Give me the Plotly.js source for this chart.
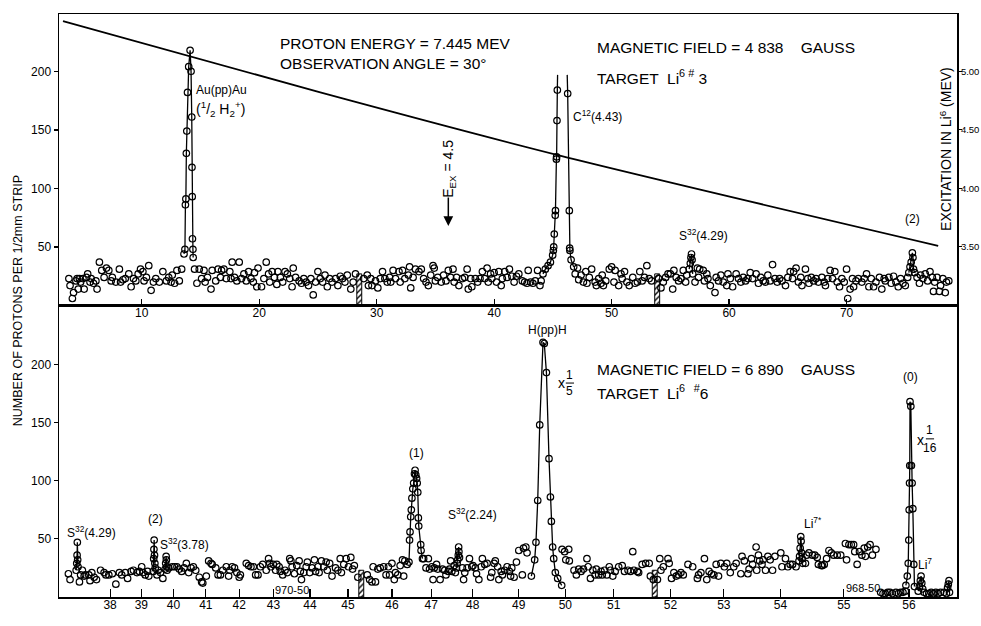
<!DOCTYPE html>
<html><head><meta charset="utf-8">
<script src="https://cdn.plot.ly/plotly-3.0.1.min.js"></script>
<style>body{margin:0;background:#fff}#chart{width:981px;height:626px}</style>
</head><body><div id="chart"></div>
<script>
// ---------- TOP PANEL (distance, cm) ----------
const topTickVals = [10,20,30,40,50,60,70];
const topBgD = [3.8,3.9,4.1,4.2,4.4,4.5,4.6,4.7,4.8,5.0,5.1,5.3,5.4,5.6,5.7,5.9,6.1,6.2,6.4,6.6,6.8,7.0,7.2,7.4,7.5,7.8,8.1,8.2,8.4,8.6,8.9,9.1,9.3,9.5,9.7,9.9,10.1,10.2,10.4,10.6,10.8,11.0,11.2,11.5,11.8,12.1,12.3,12.5,12.6,12.8,13.0,13.2,13.4,
14.5,14.7,14.9,15.1,15.3,15.4,15.6,15.9,16.0,16.3,16.5,16.7,16.8,17.0,17.2,17.5,17.6,17.7,17.9,18.1,18.3,18.5,18.7,18.9,19.1,19.3,19.5,19.6,19.8,19.9,20.2,20.4,20.6,20.8,20.9,21.1,21.3,21.5,21.6,21.8,22.0,22.2,22.4,22.6,22.8,22.9,23.1,23.4,23.6,23.8,24.0,24.2,24.4,24.6,24.8,25.0,25.2,25.4,25.6,25.8,26.0,26.2,26.5,26.7,26.9,27.1,27.3,27.5,27.8,28.0,28.2,
28.9,29.2,29.3,29.5,29.6,29.9,30.1,30.3,30.5,30.7,30.9,31.1,31.2,31.4,31.6,31.9,32.0,32.2,32.4,32.7,32.8,32.9,33.1,33.3,33.6,33.8,34.0,34.2,34.4,34.6,34.8,34.9,35.0,35.2,35.5,35.7,35.9,36.1,36.3,36.5,36.6,36.8,37.0,37.3,37.5,37.7,37.8,38.0,38.1,38.4,38.6,38.8,39.0,39.2,39.4,39.5,39.7,39.8,40.0,40.2,40.4,40.6,40.7,40.9,41.1,41.3,41.5,41.7,41.9,42.1,42.4,42.6,42.8,42.9,43.1,43.3,43.5,43.7,43.9,44.0,
46.9,47.1,47.2,47.4,47.6,47.8,47.9,48.1,48.3,48.6,48.7,48.9,49.1,49.2,49.3,49.5,49.8,50.0,50.2,50.3,50.6,50.8,50.9,51.1,51.3,51.5,51.8,52.0,52.2,52.4,52.6,52.8,53.0,53.2,53.4,
54.0,54.2,54.4,54.6,54.8,55.0,55.2,55.3,55.5,55.7,55.9,56.1,56.3,56.4,
57.1,57.3,57.4,57.5,57.8,57.9,58.1,58.2,58.4,58.8,58.9,59.1,59.3,59.5,59.8,59.9,60.1,60.3,60.6,60.8,61.0,61.2,61.4,61.6,61.8,62.0,62.3,62.5,62.7,62.9,63.1,63.3,63.5,63.7,63.9,64.1,64.3,64.5,64.8,65.0,65.2,65.4,65.5,65.7,65.9,66.1,66.2,66.5,66.7,66.8,67.0,67.2,67.4,67.6,67.9,68.1,68.2,68.4,68.6,68.8,69.0,69.2,69.4,69.6,69.8,70.0,70.1,70.3,70.5,70.6,70.8,71.0,71.3,71.5,71.7,71.9,72.1,72.3,72.5,72.8,73.0,73.2,73.3,73.6,73.8,74.0,74.2,74.4,74.6,74.8,75.0,75.2,
76.0,76.2,76.3,76.5,76.7,76.9,77.1,77.3,77.4,77.5,77.7,77.9,78.0,78.2,78.4,78.5,78.7];
const topBgN = [23,17,6,11,21,23,14,23,20,23,14,24,27,20,23,19,21,14,37,30,24,32,30,21,24,20,31,20,22,23,27,16,23,21,27,31,29,21,24,34,13,20,23,20,29,21,24,20,26,19,30,21,31,
31,19,31,23,30,20,24,14,30,21,31,24,30,31,23,29,23,37,24,21,37,23,27,21,29,23,20,28,16,32,16,23,37,27,20,29,24,18,29,24,20,29,27,23,16,32,24,21,19,23,20,17,23,9,20,29,23,20,26,16,23,20,23,17,25,23,20,26,14,20,27,
23,26,17,23,17,21,15,23,29,23,20,24,20,30,23,29,20,30,23,26,33,15,24,31,29,31,23,20,17,26,34,32,21,24,20,26,21,30,24,31,20,24,17,23,24,31,14,23,16,23,20,23,29,23,32,20,27,23,28,20,29,17,23,29,24,31,25,20,25,27,21,20,19,30,20,19,21,30,17,21,
27,32,22,26,20,29,19,24,31,20,17,23,19,26,17,21,31,33,20,30,17,27,23,29,20,17,24,19,20,29,21,24,34,23,21,
23,15,20,24,27,27,14,30,24,21,23,30,20,26,
20,32,24,31,30,21,27,23,17,11,24,21,26,20,17,27,23,16,27,23,20,24,21,23,28,23,27,19,24,21,20,26,21,35,23,20,23,21,17,24,29,23,29,32,20,24,17,31,23,19,24,21,23,20,24,20,17,23,30,23,29,20,16,23,20,31,6,14,23,16,21,23,20,23,27,16,23,16,20,24,14,23,21,24,19,25,20,16,23,19,17,24,
24,19,26,23,27,21,29,24,12,20,24,12,17,23,11,20,21];
// peaks (top)
const auPkD = [13.6,13.68,13.72,13.76,13.8,13.84,13.9,14.0,14.12,14.2,14.26,14.28,14.3,14.32,14.36,14.38];
const auPkN = [44,48,86,91,130,149,182,204,218,200,161,118,93,57,48,41];
const c12LeftD = [44.16,44.36,44.59,44.79,44.98,45.04,45.07,45.12,45.2,45.22,45.3,45.32,45.35,45.38];
const c12LeftN = [27,31,34,37,43,47,50,61,77,81,125,127,158,184];
const c12RightD = [46.26,46.4,46.43,46.45,46.55,46.77];
const c12RightN = [181,81,49,47,39,33];
const c12TopD = [45.4,46.22];   // where the two traced lines stop (off-scale peak)
const c12TopN = 197;
const s32TopD = [56.6,56.7,56.75,56.8,56.85,56.9];
const s32TopN = [31,36,41,44,39,27];
const p2TopD = [75.3,75.4,75.5,75.6,75.65,75.7,75.8];
const p2TopN = [28,33,37,45,41,31,28];
// excitation curve (right axis, MeV)
const exD = [3.3,25.2,45.6,77.8];
const exMeV = [5.43,4.82,4.28,3.51];
const exTicks = [3.5,4.0,4.5,5.0];
const exTickText = ['3.50','4.00','4.50','5.00'];
// hatched strip markers
const hatchTopD = [28.52,53.88];
const hatchTopN = [27,27];

// ---------- BOTTOM PANEL (trajectory radius, plotted at strip position) ----------
const radLabels = ['38','39','40','41','42','43','44','45','46','47','48','49','50','51','52','53','54','55','56'];
const radPosD = [7.31,9.97,12.70,15.46,18.30,21.22,24.32,27.56,31.30,34.65,38.17,42.09,46.06,50.18,55.01,59.55,64.37,69.77,75.31];
const botBgD = [3.76,3.9,4.7,4.8,4.95,5.1,5.2,5.5,5.6,5.75,5.95,6.15,6.5,6.8,6.95,7.2,7.5,7.8,8.1,8.3,8.6,8.8,9.1,9.3,9.6,9.8,10.0,10.1,10.3,10.5,10.6,
11.3,11.4,11.6,11.8,
12.3,12.6,12.8,13.0,13.2,13.4,13.6,13.8,14.0,14.2,14.4,14.6,14.9,15.1,15.2,15.5,15.7,15.9,16.0,16.3,16.5,16.7,16.9,17.2,17.4,17.5,17.7,17.9,18.1,18.3,18.4,18.9,19.1,19.3,19.5,19.7,19.9,20.1,20.3,20.6,20.8,20.9,21.0,21.2,21.4,21.5,21.7,21.8,22.0,22.2,22.4,22.6,22.7,22.8,23.0,23.2,23.4,23.5,23.6,23.8,24.0,24.1,24.3,24.5,24.7,24.8,25.0,25.1,25.3,25.5,25.7,25.8,26.0,26.2,26.5,26.7,26.9,27.0,27.2,27.4,27.6,27.8,27.95,28.1,28.4,
29.2,29.4,29.6,29.7,29.9,30.1,30.3,30.6,30.8,31.0,31.1,31.3,31.5,31.6,31.8,32.0,32.2,32.3,32.4,32.6,
34.0,34.2,34.4,34.5,34.7,34.8,34.9,35.1,35.2,35.4,35.6,35.8,35.9,36.1,36.2,36.3,36.4,36.6,36.7,
37.3,37.4,37.5,37.7,37.9,38.1,38.2,38.4,38.5,38.7,38.9,39.0,39.2,39.4,39.7,39.8,40.0,40.1,40.3,40.4,40.6,40.7,40.9,41.1,41.3,41.4,41.5,41.7,41.9,42.1,42.4,42.5,42.7,42.8,
45.78,46.0,46.1,46.35,46.4,46.8,47.0,47.2,47.4,47.6,47.9,48.0,48.2,48.4,48.6,48.7,48.9,49.1,49.2,49.4,49.6,49.8,49.9,50.1,50.3,50.6,50.9,51.1,51.4,51.6,51.8,51.9,52.2,52.3,52.6,52.9,53.2,53.3,53.55,
53.9,54.1,54.2,54.4,54.8,54.9,55.1,55.3,55.5,55.7,55.9,56.1,56.5,56.9,57.3,57.4,57.6,57.9,58.1,58.3,58.5,58.7,58.9,59.1,59.3,59.6,59.8,60.1,60.4,60.6,61.0,61.1,61.3,61.6,61.7,61.9,62.0,62.3,62.35,62.5,62.6,62.8,62.9,63.1,63.3,63.5,63.7,63.9,64.4,64.5,64.8,65.0,65.2,65.4,65.7,
66.5,66.6,66.8,67.1,67.3,67.5,67.6,67.85,67.95,68.1,68.3,68.5,68.7,68.9,69.2,69.5,69.9,70.0,70.2,70.4,70.6,70.7,70.9,71.1,71.3,71.5,71.6,71.8,72.0,72.2,72.5,
72.9,73.1,73.3,73.5,73.7,73.9,74.2,74.4,74.6,74.8,75.0,
76.6,76.8,77.0,77.2,77.4,77.6,77.8,78.0,78.3];
const botBgN = [20,15,13,19,23,18,19,19,14,21,17,15,23,21,19,19,20,11,21,19,21,16,22,23,21,22,26,21,19,22,18,
19,23,21,16,
25,26,26,26,24,22,25,29,21,25,26,23,17,13,12,18,31,29,28,25,19,19,23,26,18,23,26,25,21,17,19,29,27,26,26,19,19,26,28,23,33,29,26,28,23,28,26,22,19,23,21,33,31,26,20,27,31,22,15,21,26,30,21,25,32,22,26,21,31,26,30,23,29,18,25,23,33,21,28,33,26,34,24,27,17,
19,15,13,26,13,24,25,26,19,26,19,29,15,21,19,27,32,18,31,28,
33,25,33,24,26,15,25,28,24,15,24,23,19,22,24,31,22,27,21,
25,15,21,25,33,26,27,25,20,15,26,33,28,29,17,21,29,31,26,15,22,19,23,26,22,18,25,17,30,40,19,42,43,38,
41,39,32,41,31,23,19,24,22,24,33,26,16,23,19,24,19,22,19,23,19,26,23,18,22,26,27,22,23,22,39,23,22,21,28,29,29,18,15,
15,33,23,26,33,29,16,21,18,19,21,19,28,26,16,19,21,33,15,22,20,19,28,18,29,26,29,21,26,29,20,35,31,20,24,33,28,43,23,36,31,28,32,23,35,32,23,35,38,26,33,26,28,28,26,
29,36,38,36,36,34,28,27,27,28,33,40,38,36,36,36,46,32,45,45,45,39,28,39,36,42,35,43,45,36,41,
4,3,3,4,4,3,4,3,4,4,5,
4,3,3,4,3,4,3,4,4];
// peaks (bottom)
const s32aD = [4.42,4.47,4.5,4.52,4.55,4.58];           const s32aN = [23,29,36,47,32,26];
const p2D   = [10.98,11.02,11.04,11.06,11.09,11.12,11.15]; const p2N = [22,33,41,49,36,29,25];
const s32bD = [12.0,12.04,12.08,12.1,12.13,12.16];       const s32bN = [24,29,35,32,26,23];
const p1D = [32.75,32.8,32.84,32.9,32.95,33.0,33.08,33.15,33.22,33.27,33.33,33.4,33.45,33.5,33.55,33.58,33.75,33.78,33.9];
const p1N = [30,49,56,69,75,85,93,98,106,109,105,102,98,90,68,61,45,40,33];
const s32cD = [36.8,36.85,36.9,36.95,36.98,37.0,37.05];  const s32cN = [25,29,32,36,43,39,34];
const hD = [43.17,43.45,43.56,43.71,43.88,44.16,44.27,44.45,44.67,44.79,44.87,44.98,45.07,45.21,45.41,45.75];
const hN = [18,32,47,83,148,219,218,193,119,86,65,43,33,21,16,10];
const li7sD = [65.95,66.0,66.05,66.1,66.13,66.17,66.22,66.27]; const li7sN = [31,35,42,52,48,38,33,29];
const p0D = [75.05,75.17,75.25,75.3,75.33,75.36,75.38,75.4,75.47,75.52,75.58,75.64,75.72,75.78];
const p0N = [10,18,29,49,75,98,113,168,164,113,98,76,28,9];
const li7D = [76.1,76.2,76.28,76.34,76.4,76.48];           const li7N = [5,9,14,18,12,7];
const endD = [78.5,78.6,78.66,78.72,78.76];                const endN = [3,8,11,14,4];
const hatchBotD = [28.69,53.67];
const hatchBotN = [23,23];

// ---------- build ----------
const FONT = "'Liberation Sans','Arial',sans-serif";
const mk = {symbol:'circle-open', size:6.5, color:'black', line:{width:1.2, color:'black'}};
function dots(x,y,xa,ya){return {type:'scatter',mode:'markers',x:x,y:y,xaxis:xa,yaxis:ya,marker:mk,hoverinfo:'skip'};}
function peak(x,y,xa,ya){return {type:'scatter',mode:'lines+markers',x:x,y:y,xaxis:xa,yaxis:ya,marker:mk,line:{color:'black',width:1.3},hoverinfo:'skip'};}
function line(x,y,xa,ya,w,sh){return {type:'scatter',mode:'lines',x:x,y:y,xaxis:xa,yaxis:ya,line:{color:'black',width:w||1.3,shape:sh||'linear',smoothing:0.8},hoverinfo:'skip'};}
function hatch(x,y,xa,ya){return {type:'bar',x:x,y:y,xaxis:xa,yaxis:ya,width:0.42,
  marker:{color:'white',line:{color:'black',width:1},pattern:{shape:'/',fgcolor:'black',bgcolor:'white',size:4,solidity:0.35}},hoverinfo:'skip'};}

const traces = [
  dots(topBgD, topBgN, 'x','y'),
  peak(auPkD, auPkN, 'x','y'),
  peak(c12LeftD, c12LeftN, 'x','y'),
  peak(c12RightD, c12RightN, 'x','y'),
  line([c12LeftD[c12LeftD.length-1], c12TopD[0]], [c12LeftN[c12LeftN.length-1], c12TopN], 'x','y'),
  line([c12TopD[1], c12RightD[0]], [c12TopN, c12RightN[0]], 'x','y'),
  peak(s32TopD, s32TopN, 'x','y'),
  peak(p2TopD, p2TopN, 'x','y'),
  hatch(hatchTopD, hatchTopN, 'x','y'),
  line(exD, exMeV, 'x','y3', 1.8, 'spline'),
  dots(botBgD, botBgN, 'x2','y2'),
  peak(s32aD, s32aN, 'x2','y2'),
  peak(p2D, p2N, 'x2','y2'),
  peak(s32bD, s32bN, 'x2','y2'),
  peak(p1D, p1N, 'x2','y2'),
  peak(s32cD, s32cN, 'x2','y2'),
  peak(hD, hN, 'x2','y2'),
  peak(li7sD, li7sN, 'x2','y2'),
  peak(p0D, p0N, 'x2','y2'),
  peak(li7D, li7N, 'x2','y2'),
  peak(endD, endN, 'x2','y2'),
  hatch(hatchBotD, hatchBotN, 'x2','y2')
];

function ann(text,x,y,xr,yr,o){return Object.assign({text:text,x:x,y:y,xref:xr,yref:yr,showarrow:false,
  font:{family:FONT,size:12,color:'black'},xanchor:'center',yanchor:'middle'},o||{});}
const big = {family:FONT,size:15.5,color:'black'};
const med = {family:FONT,size:14,color:'black'};
const sm = {family:FONT,size:12,color:'black'};
const xs = {family:FONT,size:11,color:'black'};

const annotations = [
  ann('PROTON ENERGY = 7.445 MEV',21.6,224,'x','y',{xanchor:'left',font:big}),
  ann('OBSERVATION ANGLE = 30°',21.6,207,'x','y',{xanchor:'left',font:big}),
  ann('MAGNETIC FIELD = 4 838    GAUSS',48.6,220,'x','y',{xanchor:'left',font:big}),
  ann('TARGET  Li<sup>6 #</sup> 3',48.6,195,'x','y',{xanchor:'left',font:big}),
  ann('Au(pp)Au',14.45,184,'x','y',{xanchor:'left',font:sm}),
  ann('(<sup>1</sup>/<sub>2</sub> H<sub>2</sub><sup>+</sup>)',14.45,168,'x','y',{xanchor:'left',font:med}),
  ann('C<sup>12</sup>(4.43)',46.5,162,'x','y',{xanchor:'left',font:sm}),
  ann('E<sub>EX</sub> = 4.5',36.1,117,'x','y',{textangle:-90,font:med}),
  {x:36.1,y:68,xref:'x',yref:'y',text:'',showarrow:true,ax:0,ay:-30,arrowhead:2,arrowsize:1.3,arrowwidth:1.5,arrowcolor:'black'},
  ann('S<sup>32</sup>(4.29)',57.8,60,'x','y',{font:sm}),
  ann('(2)',75.6,74,'x','y',{font:sm}),
  ann('EXCITATION IN Li<sup>6</sup> (MEV)',78.4,134,'x','y',{textangle:-90,font:med}),
  ann('830-50',14.8,-5,'x','y',{font:xs}),
  ann('829-50',43.1,-5,'x','y',{font:xs}),
  ann('828-50',65.5,-5,'x','y',{font:xs}),
  ann('DISTANCE - CM',32.5,-19,'x','y',{font:med}),
  ann('NUMBER OF PROTONS PER 1/2mm STRIP',-0.0457,0.509,'paper','paper',{textangle:-90,font:{family:FONT,size:12.5,color:'black'}}),
  // bottom
  ann('H(pp)H',44.5,230,'x2','y2',{font:sm}),
  ann('x',45.7,184,'x2','y2',{font:med}),
  ann('1',46.45,191,'x2','y2',{font:sm}),
  ann('5',46.45,177,'x2','y2',{font:sm}),
  ann('MAGNETIC FIELD = 6 890    GAUSS',48.6,196,'x2','y2',{xanchor:'left',font:big}),
  ann('TARGET  Li<sup>6</sup>  <sup>#</sup>6',48.6,176,'x2','y2',{xanchor:'left',font:big}),
  ann('(0)',75.4,189,'x2','y2',{font:sm}),
  ann('x',76.3,135,'x2','y2',{font:med}),
  ann('1',77.1,144,'x2','y2',{font:sm}),
  ann('16',77.1,128,'x2','y2',{font:sm}),
  ann('Li<sup>7</sup>',76.7,28,'x2','y2',{font:sm}),
  ann('Li<sup>7*</sup>',67.1,64,'x2','y2',{font:sm}),
  ann('(1)',33.4,124,'x2','y2',{font:sm}),
  ann('S<sup>32</sup>(2.24)',38.2,71,'x2','y2',{font:sm}),
  ann('S<sup>32</sup>(4.29)',5.7,56,'x2','y2',{font:sm}),
  ann('(2)',11.2,67,'x2','y2',{font:sm}),
  ann('S<sup>32</sup>(3.78)',13.6,46,'x2','y2',{font:sm}),
  ann('970-50',22.8,6,'x2','y2',{font:xs}),
  ann('968-50',71.4,8,'x2','y2',{font:xs}),
  ann('TRAJECTORY   RADIUS - CM',40.1,-20,'x2','y2',{font:med})
];
const shapes = [
  {type:'line',xref:'x2',yref:'y2',x0:46.1,x1:46.8,y0:184,y1:184,line:{color:'black',width:1}},
  {type:'line',xref:'x2',yref:'y2',x0:76.75,x1:77.45,y0:136,y1:136,line:{color:'black',width:1}}
];
const axBase = {showgrid:false,zeroline:false,showline:true,mirror:true,linecolor:'black',linewidth:1.5,
  tickcolor:'black',tickwidth:1.2,tickfont:{family:FONT,size:12,color:'black'}};
const layout = {
  width:981,height:626,margin:{l:59,r:24,t:14,b:29},paper_bgcolor:'white',plot_bgcolor:'white',
  showlegend:false,font:{family:FONT,size:12,color:'black'},barmode:'overlay',bargap:0,
  xaxis:Object.assign({},axBase,{domain:[0,1],anchor:'y',range:[2.96,79.4],tickmode:'array',tickvals:topTickVals,ticks:'inside',ticklen:7,ticklabelstandoff:-4}),
  yaxis:Object.assign({},axBase,{domain:[0.5,1],anchor:'x',range:[0,249],tickmode:'array',tickvals:[50,100,150,200],ticks:'outside',ticklen:4}),
  yaxis3:{overlaying:'y',side:'right',anchor:'x',range:[3.0,5.49],tickmode:'array',tickvals:exTicks,ticktext:exTickText,
    ticks:'outside',ticklen:4,tickcolor:'black',showline:false,showgrid:false,zeroline:false,automargin:false,ticklabelstandoff:-3,
    tickfont:{family:FONT,size:9.5,color:'black'}},
  xaxis2:Object.assign({},axBase,{domain:[0,1],anchor:'y2',range:[2.96,79.4],tickmode:'array',tickvals:radPosD,ticktext:radLabels,ticks:'inside',ticklen:8,ticklabelstandoff:-4}),
  yaxis2:Object.assign({},axBase,{domain:[0,0.5],anchor:'x2',range:[0,250.7],tickmode:'array',tickvals:[50,100,150,200],ticks:'outside',ticklen:4}),
  annotations:annotations, shapes:shapes
};
Plotly.newPlot('chart',traces,layout,{displayModeBar:false,staticPlot:true});
</script></body></html>
